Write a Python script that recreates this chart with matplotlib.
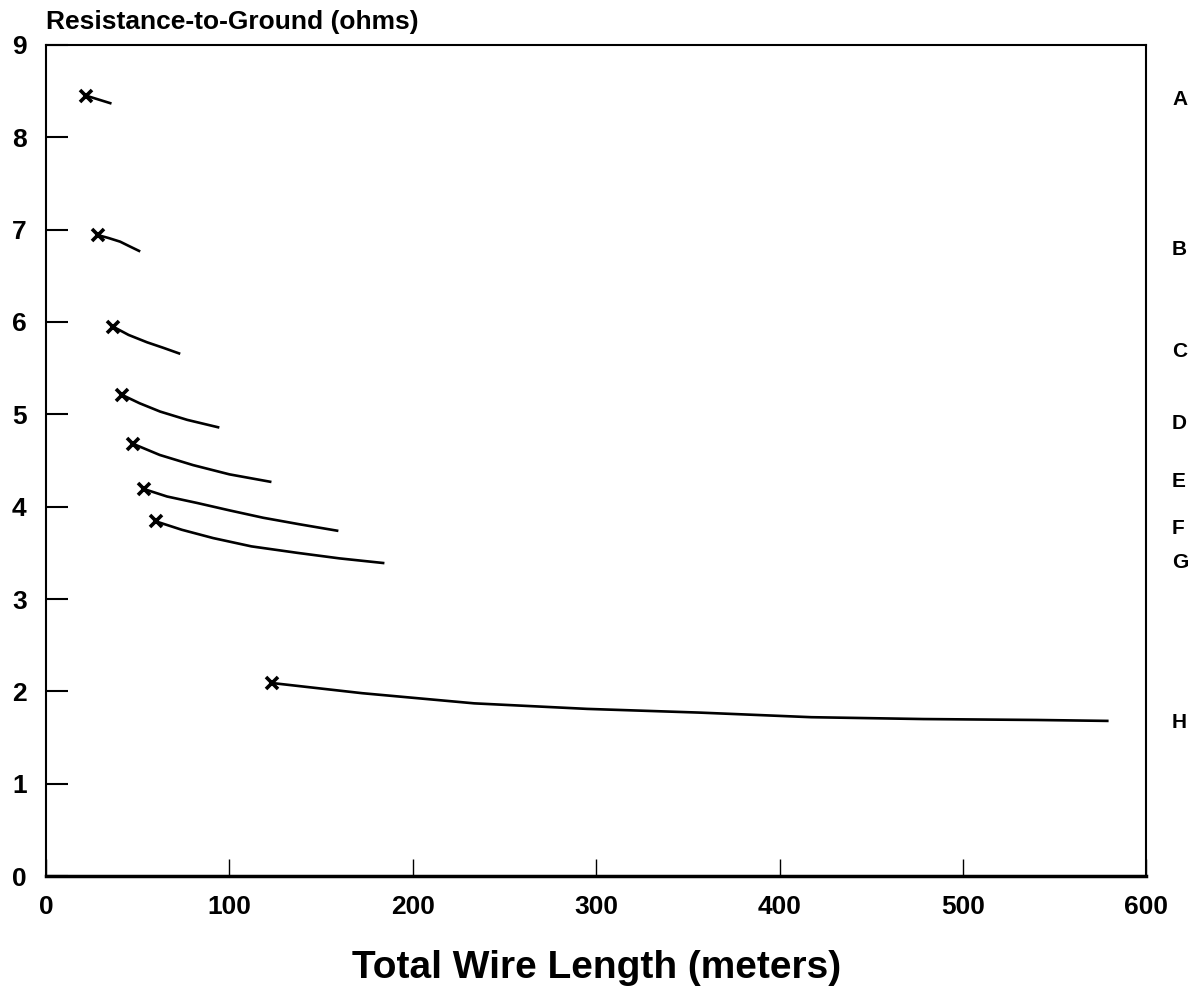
import matplotlib.pyplot as plt

plt.rcParams['font.family'] = ['Liberation Sans', 'DejaVu Sans']
plt.rcParams['font.weight'] = 'bold'

# curve labels and points (x = total wire length in m, y = ohms)
labels = ["A", "B", "C", "D", "E", "F", "G", "H"]
xs = [
    [22, 28.5, 35],
    [28.4, 34, 40.4, 45.5, 50.7],
    [36.5, 45, 55.1, 64, 72.5],
    [41.5, 51, 62.2, 77, 93.8],
    [47.5, 62, 80.2, 100, 122.2],
    [53.5, 66, 82.4, 100, 118.4, 138, 158.7],
    [60, 74, 91.1, 112, 137, 160, 183.8],
    [123.3, 172.4, 233.5, 295.1, 356.2, 417.3, 478.4, 540, 578.7],
]
ys = [
    [8.45, 8.41, 8.37],
    [6.94, 6.91, 6.87, 6.82, 6.77],
    [5.95, 5.86, 5.78, 5.72, 5.66],
    [5.21, 5.12, 5.03, 4.94, 4.86],
    [4.68, 4.56, 4.45, 4.35, 4.27],
    [4.19, 4.11, 4.04, 3.96, 3.88, 3.81, 3.74],
    [3.84, 3.75, 3.66, 3.57, 3.50, 3.44, 3.39],
    [2.09, 1.98, 1.87, 1.81, 1.77, 1.72, 1.70, 1.69, 1.68],
]
# y positions of the right-hand letters
label_y = [8.41, 6.79, 5.68, 4.90, 4.27, 3.76, 3.40, 1.66]

fig = plt.figure(figsize=(11.9, 9.93), dpi=100)
ax = fig.add_axes([0.0387, 0.1178, 0.9246, 0.8369])

for x, y in zip(xs, ys):
    ax.plot(x, y, color="black", lw=1.9, solid_joinstyle="round")
    ax.plot(x[0], y[0], marker="x", color="black", markersize=9, mew=2.6)

for lab, ly in zip(labels, label_y):
    ax.text(614, ly, lab, fontsize=15, fontweight="bold", ha="left", va="center")

ax.set_xlim(0, 600)
ax.set_ylim(0, 9)
ax.set_xticks(range(0, 601, 100))
ax.set_yticks(range(0, 10))
ax.tick_params(axis="x", direction="in", length=12, width=1, pad=14, labelsize=19)
ax.tick_params(axis="y", direction="in", length=16, width=1.5, pad=14, labelsize=19)
for lbl in ax.get_xticklabels() + ax.get_yticklabels():
    lbl.set_fontweight("bold")
for s in ax.spines.values():
    s.set_linewidth(1.5)
ax.spines["bottom"].set_linewidth(2.5)

ax.set_xlabel("Total Wire Length (meters)", fontsize=28, fontweight="bold", labelpad=22)
fig.text(0.0387, 0.978, "Resistance-to-Ground (ohms)", fontsize=19, fontweight="bold",
         ha="left", va="center")

fig.savefig("out.png")
